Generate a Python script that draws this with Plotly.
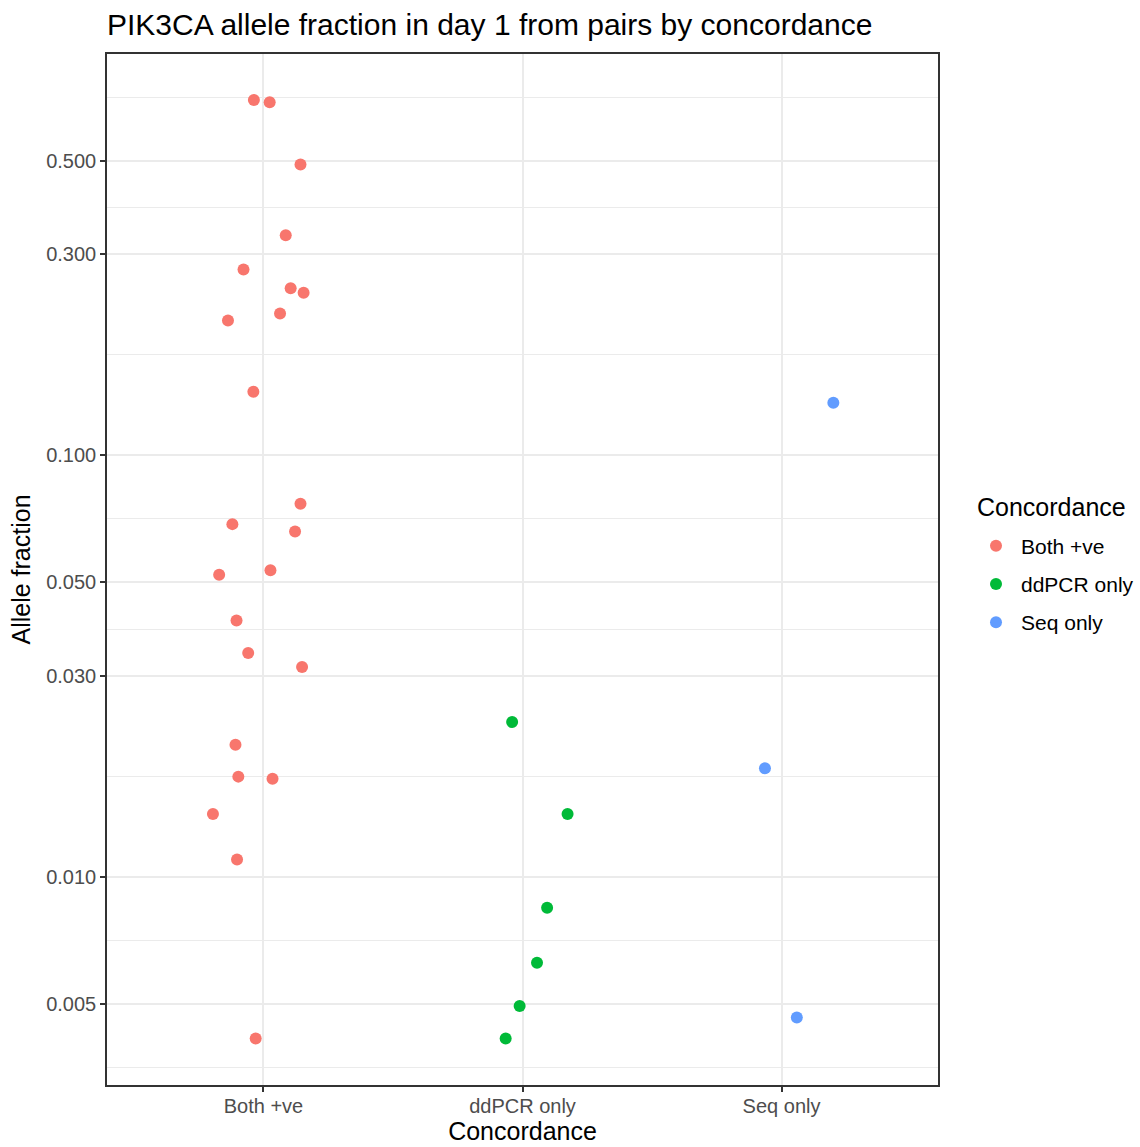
import math
import plotly.graph_objects as go

# Concordance groups, in axis order
categories = ["Both +ve", "ddPCR only", "Seq only"]
colors = ["#F8766D", "#00BA38", "#619CFF"]

# Allele fractions for each group
both_af = [0.697, 0.688, 0.490, 0.333, 0.276, 0.249, 0.243, 0.209, 0.217,
           0.1416, 0.0768, 0.0687, 0.0660, 0.0521, 0.0534, 0.0406, 0.0340,
           0.0315, 0.0206, 0.0173, 0.0171, 0.0141, 0.0110, 0.00414]
ddpcr_af = [0.0233, 0.0141, 0.00845, 0.00626, 0.00494, 0.00414]
seq_af = [0.1333, 0.0181, 0.00464]

# Horizontal jitter applied to each point (in category units)
both_jitter = [-0.037, 0.024, 0.143, 0.086, -0.077, 0.105, 0.155, -0.137, 0.064,
               -0.039, 0.143, -0.120, 0.122, -0.171, 0.027, -0.104, -0.059,
               0.149, -0.108, -0.097, 0.035, -0.195, -0.102, -0.030]
ddpcr_jitter = [-0.040, 0.174, 0.095, 0.056, -0.011, -0.065]
seq_jitter = [0.200, -0.064, 0.059]

# Y-axis breaks
y_breaks = [0.005, 0.010, 0.030, 0.050, 0.100, 0.300, 0.500]
y_labels = ["0.005", "0.010", "0.030", "0.050", "0.100", "0.300", "0.500"]

FONT = "Liberation Sans, Arial, sans-serif"
W, H = 1140, 1147

groups = [(both_af, both_jitter), (ddpcr_af, ddpcr_jitter), (seq_af, seq_jitter)]

fig = go.Figure()
for i, (name, color, (vals, jit)) in enumerate(zip(categories, colors, groups)):
    fig.add_trace(go.Scatter(
        x=[i + j for j in jit],
        y=vals,
        mode="markers",
        name=name,
        legendgroup=name,
        marker=dict(color=color, size=12, line=dict(width=0)),
    ))

# minor gridlines sit halfway (in log space) between neighbouring breaks
ext_breaks = [0.0025] + y_breaks + [1.0]
minor_vals = [math.sqrt(a * b) for a, b in zip(ext_breaks[:-1], ext_breaks[1:])]

fig.update_layout(
    width=W,
    height=H,
    margin=dict(l=107, r=202, t=54, b=62),
    paper_bgcolor="white",
    plot_bgcolor="white",
    font=dict(family=FONT, color="black"),
    title=dict(
        text="PIK3CA allele fraction in day 1 from pairs by concordance",
        x=0, xanchor="left", xref="paper",
        y=1 - 24 / H, yanchor="middle", yref="container",
        font=dict(size=30, family=FONT, color="black"),
    ),
    legend=dict(
        font=dict(size=21, family=FONT, color="black"),
        xref="container", yref="container",
        x=971 / W, xanchor="left",
        y=1 - 584 / H, yanchor="middle",
        tracegroupgap=8,
        itemwidth=40,
        itemsizing="constant",
        bgcolor="rgba(0,0,0,0)",
    ),
    annotations=[dict(
        text="Concordance", showarrow=False,
        xref="paper", yref="paper",
        x=(975 - 107) / 831, xanchor="left",
        y=(1085 - 507) / 1031, yanchor="middle",
        font=dict(size=25, family=FONT, color="black"),
    )],
    xaxis=dict(
        range=[-0.604, 2.604],
        tickmode="array",
        tickvals=[0, 1, 2],
        ticktext=categories,
        tickfont=dict(size=20, color="#4D4D4D", family=FONT),
        ticks="outside", ticklen=5, tickwidth=1.5, tickcolor="#333333",
        ticklabelstandoff=-3,
        showgrid=True, gridcolor="#EBEBEB", gridwidth=1.5,
        zeroline=False,
        showline=True, linecolor="#333333", linewidth=1.5, mirror=True,
        automargin=False,
        title=dict(text="Concordance", font=dict(size=25, family=FONT, color="black"),
                   standoff=4),
    ),
    yaxis=dict(
        type="log",
        range=[-2.4934, -0.0479],
        tickmode="array",
        tickvals=y_breaks,
        ticktext=y_labels,
        tickfont=dict(size=20, color="#4D4D4D", family=FONT),
        ticks="outside", ticklen=5, tickwidth=1.5, tickcolor="#333333",
        showgrid=True, gridcolor="#EBEBEB", gridwidth=1.5,
        minor=dict(tickmode="array", tickvals=minor_vals, showgrid=True,
                   gridcolor="#EBEBEB", gridwidth=1, ticks=""),
        zeroline=False,
        showline=True, linecolor="#333333", linewidth=1.5, mirror=True,
        automargin=False,
        title=dict(text="Allele fraction", font=dict(size=25, family=FONT, color="black"),
                   standoff=8),
    ),
)

fig.write_html("out.html")
